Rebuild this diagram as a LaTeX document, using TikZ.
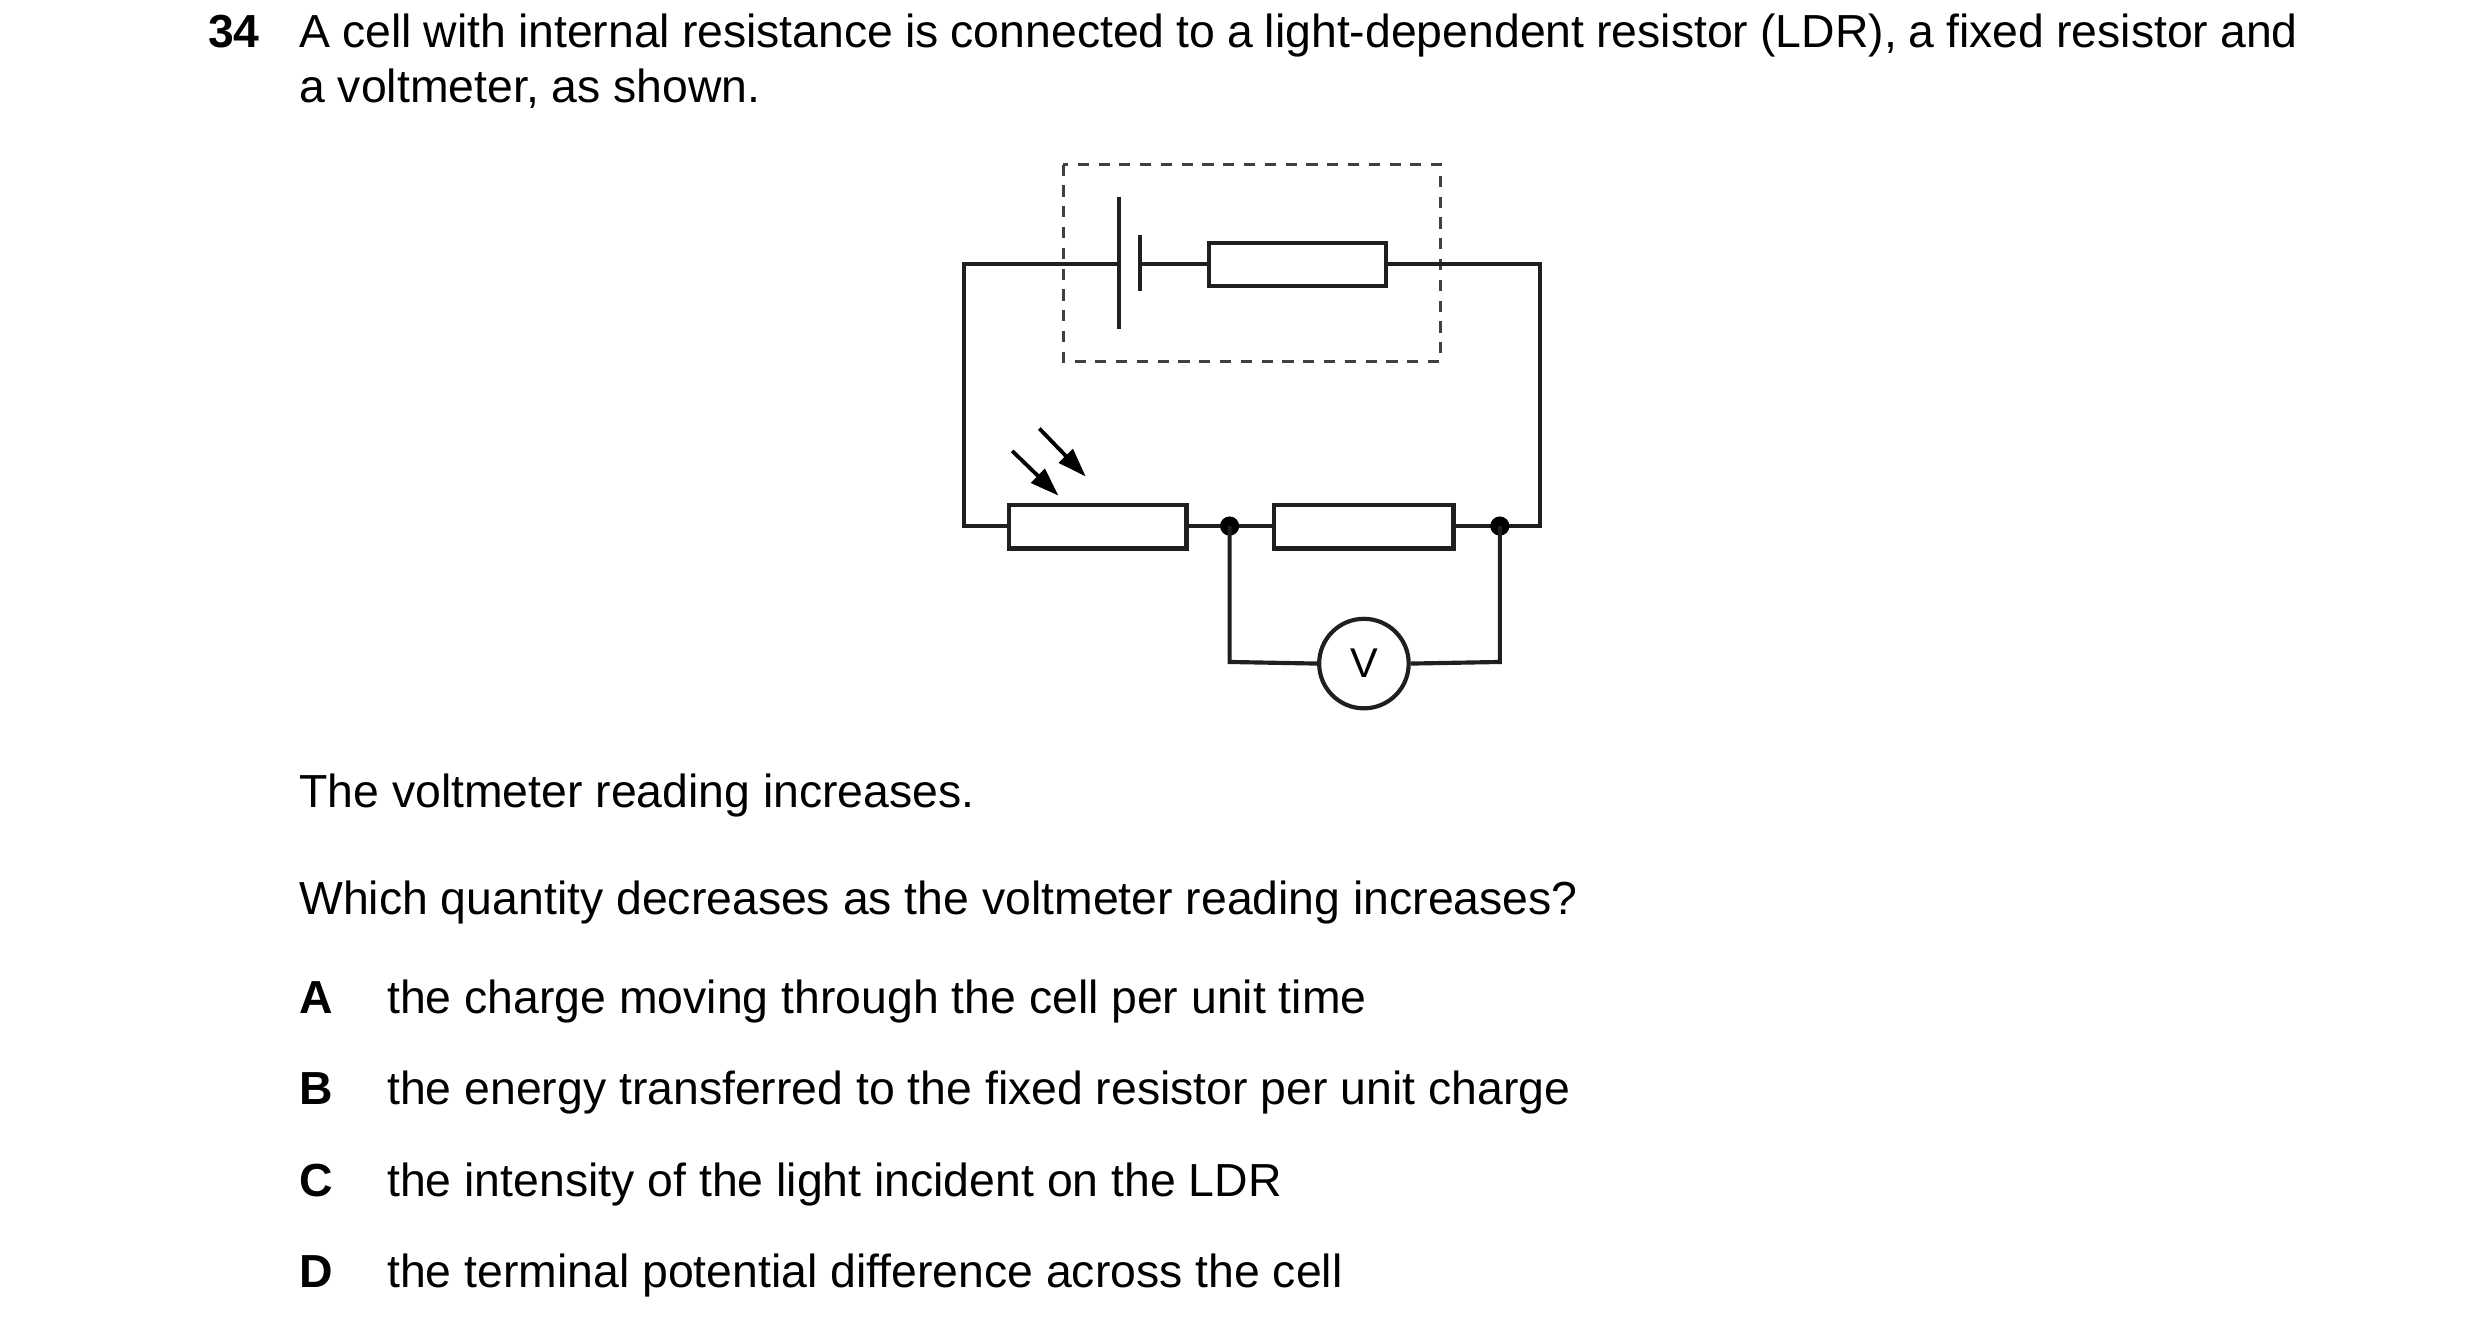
\documentclass[tikz,border=0pt]{standalone}
\usepackage{fontspec}
\setmainfont{Liberation Sans}
\usetikzlibrary{arrows.meta}
\begin{document}
\begin{tikzpicture}[x=1pt,y=-1pt,
  w/.style={line width=2.6pt,draw=black!88},
  res/.style={w,fill=white},
  txt/.style={anchor=base west,inner sep=0pt,font=\fontsize{29}{34}\selectfont},
  lbl/.style={txt,font=\fontsize{29}{34}\selectfont\bfseries}]
\useasboundingbox (0,0) rectangle (1551,826);
% text
\node[lbl] (q) at (130,30) {34};
\node[txt,text width=1250pt,align=justify] (t1) at (187,30) {A cell with internal resistance is connected to a light-dependent resistor (LDR), a fixed resistor and a voltmeter, as shown.};
\node[txt] (t2) at (187,505) {The voltmeter reading increases.};
\node[txt] (t3) at (187,572) {Which quantity decreases as the voltmeter reading increases?};
\node[lbl] (la) at (187,634) {A}; \node[txt] (a) at (242,634) {the charge moving through the cell per unit time};
\node[lbl] (lb) at (187,691) {B}; \node[txt] (b) at (242,691) {the energy transferred to the fixed resistor per unit charge};
\node[lbl] (lc) at (187,748) {C}; \node[txt] (c) at (242,748) {the intensity of the light incident on the LDR};
\node[lbl] (ld) at (187,805) {D}; \node[txt] (d) at (242,805) {the terminal potential difference across the cell};
% dashed box
\draw[line width=1.5pt,draw=black!75,dash pattern=on 7pt off 6pt] (665,103) rectangle (901,226);
% circuit
\coordinate (j1) at (769,329); \coordinate (j2) at (938,329);
\draw[w] (700,165) -- (603,165) -- (603,329) -- (631,329);
\draw[w] (700,123) -- (700,206);
\draw[w] (713,147) -- (713,182);
\draw[w] (713,165) -- (756,165);
\draw[w] (867,165) -- (963,165) -- (963,329) -- (909,329);
\draw[w] (742,329) -- (797,329);
\draw[res] (756,152) rectangle (867,179);
\draw[res] (631,316) rectangle (742,343);
\draw[res] (797,316) rectangle (909,343);
\fill (j1) circle (6); \fill (j2) circle (6);
\node[circle,w,minimum size=56pt,inner sep=0pt,font=\fontsize{26}{30}\selectfont] (V) at (853,415) {V};
\draw[w] (j1) -- (769,414) -- (V.west);
\draw[w] (j2) -- (938,414) -- (V.east);
\draw[line width=2.4pt,-{Triangle[length=18pt,width=12pt]}] (633,282) -- (662,310);
\draw[line width=2.4pt,-{Triangle[length=18pt,width=12pt]}] (650,268) -- (679,298);
\end{tikzpicture}
\end{document}
